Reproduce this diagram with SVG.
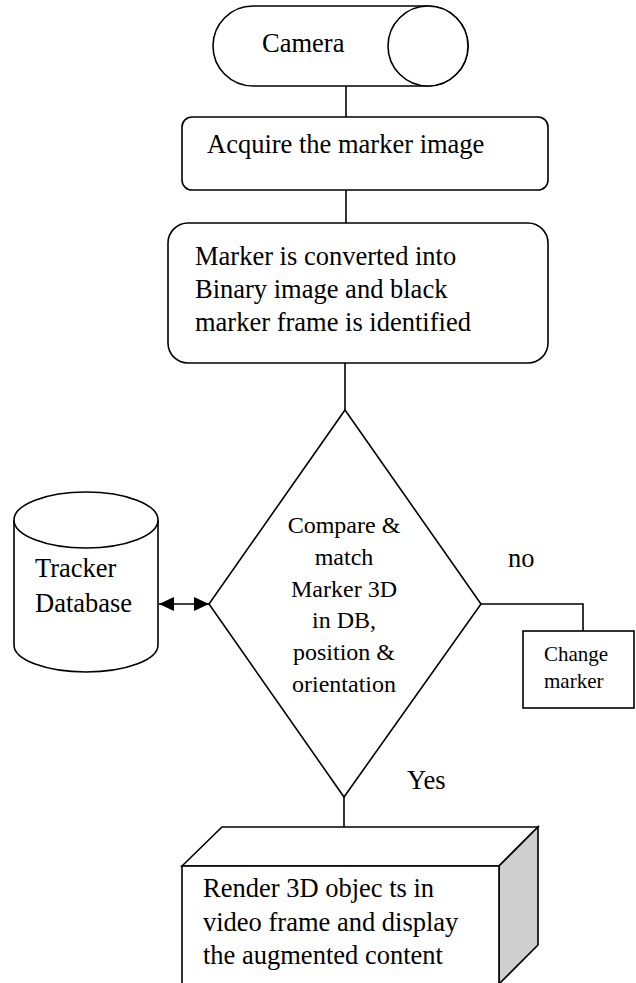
<svg xmlns="http://www.w3.org/2000/svg" width="636" height="983" viewBox="0 0 636 983">
<style>
.s{fill:#fff;stroke:#000;stroke-width:1.6}
.c{fill:none;stroke:#000;stroke-width:1.6}
.t{font-size:26.5px}
.d{font-size:24px;text-anchor:middle}
.m{font-size:21px}
</style>
<defs>
<marker id="ah" markerWidth="16" markerHeight="14" refX="15" refY="7" orient="auto-start-reverse" markerUnits="userSpaceOnUse">
<path d="M0,0 L15,7 L0,14 Z" fill="#000"/>
</marker>
</defs>
<rect width="636" height="983" fill="#fff"/>
<g id="connectors">
<line class="c" x1="346" y1="86" x2="346" y2="117"/>
<line class="c" x1="346" y1="190" x2="346" y2="223"/>
<line class="c" x1="345" y1="363" x2="345" y2="410"/>
<polyline class="c" points="481,604 583,604 583,631"/>
<line class="c" x1="344" y1="797" x2="344" y2="827"/>
<line class="c" x1="159" y1="604" x2="209" y2="604" marker-start="url(#ah)" marker-end="url(#ah)"/>
</g>
<g font-family="'Liberation Serif', 'DejaVu Serif', serif" fill="#000">
<g id="camera">
<path class="s" d="M253,6 H428 A40,40 0 0 1 428,86 H253 A40,40 0 0 1 253,6 Z"/>
<ellipse class="s" cx="428" cy="46" rx="40" ry="40"/>
<text class="t" x="262" y="52">Camera</text>
</g>
<g id="acquire">
<rect class="s" x="182" y="117" width="366" height="73" rx="10"/>
<text class="t" x="207" y="153">Acquire the marker image</text>
</g>
<g id="convert">
<rect class="s" x="168" y="223" width="380" height="140" rx="20"/>
<text class="t" x="195" y="265">Marker is converted into</text>
<text class="t" x="195" y="298">Binary image and black</text>
<text class="t" x="195" y="331">marker frame is identified</text>
</g>
<g id="compare">
<polygon class="s" points="345,410 481,604 344,797 209,604"/>
<text class="d" x="344" y="533">Compare &amp;</text>
<text class="d" x="344" y="565">match</text>
<text class="d" x="344" y="597">Marker 3D</text>
<text class="d" x="344" y="628">in DB,</text>
<text class="d" x="344" y="660">position &amp;</text>
<text class="d" x="344" y="692">orientation</text>
</g>
<g id="database">
<path class="s" d="M14,520 V645 A72,27 0 0 0 158,645 V520"/>
<ellipse class="s" cx="86" cy="520" rx="72" ry="28"/>
<text class="t" x="35" y="577">Tracker</text>
<text class="t" x="35" y="612">Database</text>
</g>
<g id="change">
<rect class="s" x="523" y="631" width="111" height="77"/>
<text class="m" x="544" y="661">Change</text>
<text class="m" x="544" y="688">marker</text>
</g>
<g id="render">
<polygon class="s" points="182,866 222,827 538,827 499,866"/>
<polygon points="499,866 538,827 538,945 499,984" fill="#cfcfcf" stroke="#000" stroke-width="1.6"/>
<rect class="s" x="182" y="866" width="317" height="125"/>
<text class="t" x="203" y="897">Render 3D objec ts in</text>
<text class="t" x="203" y="931">video frame and display</text>
<text class="t" x="203" y="964">the augmented content</text>
</g>
<text class="t" x="508" y="567">no</text>
<text class="t" x="407" y="789">Yes</text>
</g>
</svg>
